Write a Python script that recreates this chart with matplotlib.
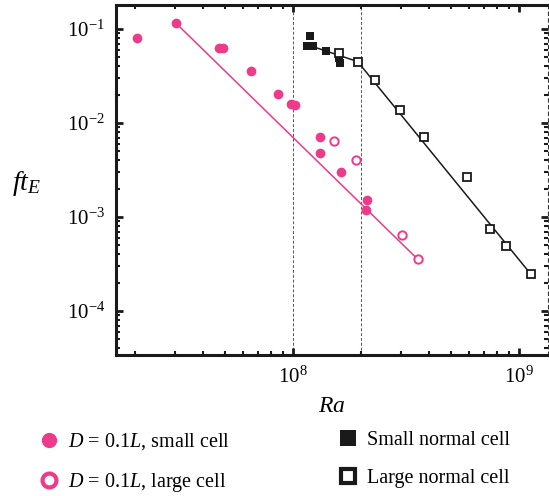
import numpy as np
import matplotlib
matplotlib.use('Agg')
import matplotlib.pyplot as plt
from matplotlib.lines import Line2D
from matplotlib.ticker import LogLocator, NullFormatter

plt.rcParams['font.family'] = ['Liberation Serif', 'DejaVu Serif']
plt.rcParams['mathtext.fontset'] = 'custom'
plt.rcParams['mathtext.rm'] = 'Liberation Serif'
plt.rcParams['mathtext.it'] = 'Liberation Serif:italic'
plt.rcParams['axes.unicode_minus'] = True

PINK = '#ED3A8A'

# D = 0.1L, small cell (filled circles)
small_ra = [2.04e7, 3.03e7, 4.7e7, 4.9e7, 6.5e7, 8.6e7, 0.98e8, 1.02e8,
            1.31e8, 1.31e8, 1.63e8, 2.13e8, 2.11e8]
small_ft = [0.080, 0.116, 0.0624, 0.0624, 0.0357, 0.0204, 0.0159, 0.0157,
            0.0071, 0.00476, 0.00299, 0.00152, 0.00118]

# D = 0.1L, large cell (open circles)
large_ra = [1.51e8, 1.89e8, 3.03e8, 3.56e8]
large_ft = [0.00649, 0.0040, 6.44e-4, 3.55e-4]

# pink power-law fit
pfit_ra = [3.03e7, 3.56e8]
pfit_ft = [0.116, 3.55e-4]

# small normal cell (filled squares)
sn_ra = [1.19e8, 1.148e8, 1.226e8, 1.40e8, 1.59e8, 1.61e8]
sn_ft = [0.0843, 0.0667, 0.0667, 0.0583, 0.0488, 0.0431]

# large normal cell (open squares)
ln_ra = [1.60e8, 1.93e8, 2.31e8, 2.97e8, 3.80e8, 5.87e8, 7.45e8, 8.75e8, 1.127e9]
ln_ft = [0.0551, 0.045, 0.0286, 0.01375, 0.00714, 0.00269, 7.4e-4, 4.88e-4, 2.45e-4]

# black piecewise fit
bfit_ra = [1.2e8, 1.93e8, 1.127e9]
bfit_ft = [0.066, 0.045, 2.45e-4]

vlines_ra = [1e8, 2e8]

fig = plt.figure(figsize=(5.49, 4.96), dpi=100)
ax = fig.add_axes([116 / 549, 141 / 496, 432 / 549, 350 / 496])
ax.set_xscale('log')
ax.set_yscale('log')
ax.set_xlim(1.65e7, 1.34e9)
ax.set_ylim(3.4e-5, 0.18)

for v in vlines_ra:
    ax.axvline(v, color='#555555', linewidth=0.7, linestyle=(0, (3, 2)), zorder=1)

ax.plot(pfit_ra, pfit_ft, color=PINK, linewidth=1.1, zorder=2)
ax.plot(bfit_ra, bfit_ft, color='#1a1a1a', linewidth=1.1, zorder=2)

ax.plot(small_ra, small_ft, 'o', color=PINK, markersize=7, markeredgewidth=0, zorder=3)
ax.plot(large_ra, large_ft, 'o', markerfacecolor='white', markeredgecolor=PINK,
        markersize=6, markeredgewidth=1.4, zorder=3)
ax.plot(sn_ra, sn_ft, 's', color='#1a1a1a', markersize=6, markeredgewidth=0, zorder=3)
ax.plot(ln_ra, ln_ft, 's', markerfacecolor='white', markeredgecolor='#1a1a1a',
        markersize=5.5, markeredgewidth=1.3, zorder=3)

for s in ['left', 'bottom', 'top']:
    ax.spines[s].set_linewidth(2.2)
    ax.spines[s].set_color('#1a1a1a')
ax.spines['right'].set_linewidth(0.8)
ax.spines['right'].set_linestyle((0, (3, 3)))
ax.spines['right'].set_color('#333333')

ax.xaxis.set_major_locator(LogLocator(base=10, numticks=10))
ax.xaxis.set_minor_locator(LogLocator(base=10, subs=np.arange(2, 10), numticks=10))
ax.yaxis.set_major_locator(LogLocator(base=10, numticks=10))
ax.yaxis.set_minor_locator(LogLocator(base=10, subs=np.arange(2, 10), numticks=10))
ax.xaxis.set_minor_formatter(NullFormatter())
ax.yaxis.set_minor_formatter(NullFormatter())

ax.tick_params(which='both', direction='in', top=True, right=True, color='#1a1a1a')
ax.tick_params(which='major', length=5, width=2, labelsize=15, pad=8)
ax.tick_params(which='minor', length=3, width=1.5)

ax.set_xlabel(r'$Ra$', fontsize=17, labelpad=6)
fig.text(27 / 549, 1 - 184 / 496, r'$ft_E$', fontsize=20, ha='center', va='center')

h_left = [
    Line2D([], [], marker='o', linestyle='none', color=PINK, markersize=11, markeredgewidth=0),
    Line2D([], [], marker='o', linestyle='none', markerfacecolor='white',
           markeredgecolor=PINK, markersize=10, markeredgewidth=3),
]
h_right = [
    Line2D([], [], marker='s', linestyle='none', color='#1a1a1a', markersize=12, markeredgewidth=0),
    Line2D([], [], marker='s', linestyle='none', markerfacecolor='white',
           markeredgecolor='#1a1a1a', markersize=10, markeredgewidth=3),
]
leg_kw = dict(loc='upper left', frameon=False, fontsize=14.5, handlelength=1.0,
              handletextpad=0.45, labelspacing=0.95, borderaxespad=0)
fig.legend(h_left, [r'$D$ = 0.1$L$, small cell', r'$D$ = 0.1$L$, large cell'],
           bbox_to_anchor=(0.056, 0.147), **leg_kw)
fig.legend(h_right, ['Small normal cell', 'Large normal cell'],
           bbox_to_anchor=(0.60, 0.147), **leg_kw)

fig.savefig('out.png', dpi=100)
